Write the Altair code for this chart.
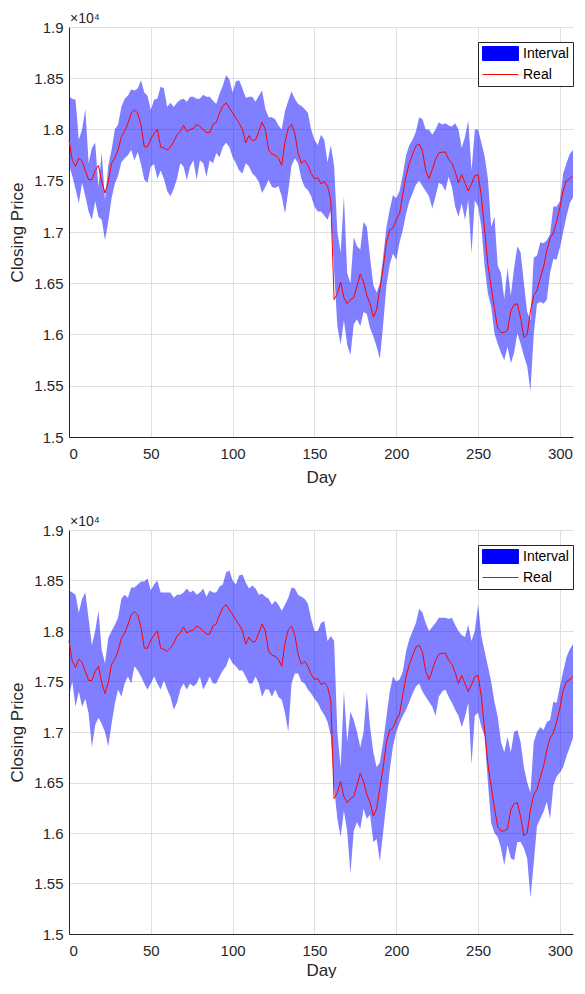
import altair as alt
import pandas as pd

# Day index (every 2nd day)
days = list(range(0, 309, 2))

# Real closing price (x 1e4)
real = [
    1.790, 1.770, 1.764, 1.772, 1.769, 1.760, 1.751, 1.751, 1.760, 1.765,
    1.749, 1.738, 1.749, 1.767, 1.772, 1.780, 1.793, 1.798, 1.806, 1.816,
    1.819, 1.816, 1.804, 1.783, 1.783, 1.791, 1.796, 1.800, 1.783, 1.782,
    1.780, 1.783, 1.788, 1.795, 1.798, 1.804, 1.798, 1.800, 1.801, 1.805,
    1.803, 1.800, 1.797, 1.797, 1.805, 1.807, 1.816, 1.823, 1.826, 1.821,
    1.816, 1.811, 1.806, 1.800, 1.787, 1.794, 1.789, 1.790, 1.798, 1.807,
    1.800, 1.780, 1.776, 1.775, 1.772, 1.765, 1.788, 1.801, 1.805, 1.796,
    1.777, 1.767, 1.770, 1.765, 1.757, 1.752, 1.753, 1.747, 1.749, 1.745,
    1.731, 1.634, 1.640, 1.651, 1.636, 1.630, 1.634, 1.636, 1.647, 1.659,
    1.651, 1.638, 1.630, 1.617, 1.624, 1.645, 1.665, 1.690, 1.702, 1.704,
    1.712, 1.718, 1.737, 1.755, 1.767, 1.776, 1.784, 1.786, 1.779, 1.760,
    1.752, 1.761, 1.771, 1.777, 1.778, 1.778, 1.771, 1.767, 1.759, 1.748,
    1.756, 1.748, 1.740, 1.747, 1.755, 1.756, 1.735, 1.702, 1.668, 1.646,
    1.625, 1.606, 1.602, 1.602, 1.604, 1.623, 1.629, 1.630, 1.616, 1.597,
    1.600, 1.623, 1.638, 1.643, 1.655, 1.666, 1.682, 1.694, 1.699, 1.710,
    1.724, 1.741, 1.750, 1.752, 1.755,
]

# Interval, top panel
upper_a = [
    1.832, 1.830, 1.829, 1.790, 1.800, 1.820, 1.767, 1.782, 1.787, 1.744,
    1.778, 1.731, 1.765, 1.780, 1.800, 1.805, 1.822, 1.830, 1.833, 1.839,
    1.838, 1.840, 1.848, 1.836, 1.833, 1.819, 1.829, 1.830, 1.842, 1.840,
    1.822, 1.826, 1.822, 1.826, 1.829, 1.830, 1.827, 1.832, 1.832, 1.830,
    1.830, 1.834, 1.832, 1.832, 1.828, 1.825, 1.835, 1.843, 1.853, 1.849,
    1.836, 1.847, 1.848, 1.840, 1.831, 1.832, 1.832, 1.827, 1.833, 1.838,
    1.820, 1.812, 1.812, 1.810, 1.804, 1.800, 1.818, 1.828, 1.837, 1.830,
    1.825, 1.823, 1.820, 1.816, 1.800, 1.790, 1.785, 1.795, 1.790, 1.768,
    1.785, 1.765, 1.700, 1.680, 1.735, 1.660, 1.650, 1.695, 1.686, 1.683,
    1.710, 1.705, 1.675, 1.648, 1.641, 1.650, 1.676, 1.705, 1.722, 1.736,
    1.733, 1.740, 1.756, 1.775, 1.785, 1.790, 1.798, 1.812, 1.810, 1.800,
    1.800, 1.795, 1.800, 1.807, 1.805, 1.806, 1.804, 1.803, 1.806, 1.800,
    1.782, 1.793, 1.809, 1.760, 1.800, 1.800, 1.787, 1.774, 1.752, 1.705,
    1.715, 1.667, 1.660, 1.635, 1.665, 1.638, 1.665, 1.686, 1.680, 1.650,
    1.622, 1.614, 1.675, 1.677, 1.690, 1.689, 1.692, 1.698, 1.725, 1.725,
    1.730, 1.757, 1.767, 1.776, 1.780,
]
lower_a = [
    1.765, 1.755, 1.742, 1.728, 1.748, 1.735, 1.720, 1.712, 1.730, 1.715,
    1.712, 1.692, 1.710, 1.733, 1.747, 1.755, 1.768, 1.772, 1.775, 1.780,
    1.770, 1.778, 1.766, 1.751, 1.748, 1.764, 1.766, 1.752, 1.760, 1.752,
    1.740, 1.735, 1.742, 1.752, 1.767, 1.764, 1.751, 1.764, 1.770, 1.751,
    1.770, 1.767, 1.754, 1.770, 1.767, 1.777, 1.773, 1.783, 1.787, 1.783,
    1.773, 1.767, 1.760, 1.757, 1.767, 1.764, 1.757, 1.754, 1.749, 1.738,
    1.744, 1.751, 1.744, 1.743, 1.745, 1.735, 1.718, 1.740, 1.765, 1.772,
    1.767, 1.752, 1.744, 1.741, 1.735, 1.725, 1.720, 1.720, 1.716, 1.712,
    1.721, 1.663, 1.608, 1.590, 1.614, 1.590, 1.580, 1.610, 1.615, 1.608,
    1.622, 1.620, 1.606, 1.598, 1.588, 1.576, 1.610, 1.648, 1.668, 1.679,
    1.673, 1.690, 1.702, 1.718, 1.730, 1.738, 1.746, 1.750, 1.745, 1.740,
    1.735, 1.723, 1.735, 1.748, 1.746, 1.740, 1.754, 1.744, 1.725, 1.715,
    1.728, 1.712, 1.731, 1.679, 1.731, 1.725, 1.705, 1.666, 1.640, 1.627,
    1.601, 1.591, 1.582, 1.575, 1.588, 1.572, 1.582, 1.601, 1.591, 1.579,
    1.569, 1.545, 1.600, 1.630, 1.632, 1.630, 1.634, 1.660, 1.674, 1.673,
    1.685, 1.700, 1.715, 1.728, 1.734,
]

# Interval, bottom panel
upper_b = [
    1.840, 1.838, 1.836, 1.818, 1.832, 1.838, 1.812, 1.786, 1.800, 1.820,
    1.781, 1.768, 1.793, 1.800, 1.806, 1.813, 1.832, 1.836, 1.833, 1.843,
    1.843, 1.846, 1.849, 1.849, 1.852, 1.840, 1.846, 1.850, 1.838, 1.838,
    1.838, 1.838, 1.833, 1.836, 1.836, 1.838, 1.842, 1.838, 1.840, 1.836,
    1.838, 1.842, 1.834, 1.840, 1.838, 1.838, 1.844, 1.846, 1.858, 1.860,
    1.850, 1.846, 1.855, 1.856, 1.848, 1.842, 1.845, 1.842, 1.836, 1.837,
    1.834, 1.832, 1.826, 1.830, 1.826, 1.820, 1.826, 1.833, 1.843, 1.842,
    1.836, 1.834, 1.832, 1.827, 1.812, 1.800, 1.800, 1.808, 1.810, 1.790,
    1.795, 1.790, 1.700, 1.665, 1.740, 1.690, 1.720, 1.712, 1.700, 1.685,
    1.700, 1.740, 1.705, 1.680, 1.665, 1.670, 1.690, 1.715, 1.740, 1.755,
    1.750, 1.752, 1.760, 1.780, 1.792, 1.800, 1.808, 1.822, 1.818, 1.808,
    1.800, 1.804, 1.808, 1.813, 1.813, 1.813, 1.812, 1.813, 1.806, 1.800,
    1.796, 1.794, 1.806, 1.790, 1.800, 1.826, 1.795, 1.780, 1.765, 1.750,
    1.730, 1.715, 1.690, 1.680, 1.695, 1.680, 1.700, 1.702, 1.690, 1.665,
    1.650, 1.640, 1.690, 1.700, 1.705, 1.702, 1.710, 1.712, 1.730, 1.729,
    1.745, 1.760, 1.774, 1.782, 1.787,
]
lower_b = [
    1.735, 1.750, 1.725, 1.740, 1.725, 1.733, 1.718, 1.685, 1.707, 1.714,
    1.708, 1.700, 1.686, 1.708, 1.728, 1.742, 1.735, 1.748, 1.755, 1.748,
    1.765, 1.761, 1.755, 1.748, 1.742, 1.748, 1.755, 1.748, 1.742, 1.751,
    1.742, 1.735, 1.722, 1.729, 1.742, 1.748, 1.742, 1.748, 1.745, 1.748,
    1.755, 1.742, 1.748, 1.755, 1.748, 1.748, 1.755, 1.761, 1.765, 1.774,
    1.768, 1.765, 1.761, 1.761, 1.755, 1.748, 1.748, 1.755, 1.748, 1.735,
    1.742, 1.742, 1.735, 1.742, 1.735, 1.732, 1.719, 1.700, 1.748, 1.758,
    1.758, 1.750, 1.748, 1.742, 1.738, 1.733, 1.729, 1.722, 1.717, 1.710,
    1.696, 1.645, 1.614, 1.596, 1.622, 1.602, 1.560, 1.602, 1.611, 1.604,
    1.624, 1.614, 1.618, 1.591, 1.594, 1.572, 1.601, 1.630, 1.662, 1.686,
    1.700, 1.709, 1.716, 1.722, 1.730, 1.738, 1.745, 1.748, 1.740, 1.735,
    1.730, 1.725, 1.716, 1.735, 1.740, 1.742, 1.735, 1.729, 1.722, 1.716,
    1.705, 1.715, 1.729, 1.668, 1.716, 1.719, 1.705, 1.696, 1.650, 1.610,
    1.600, 1.596, 1.585, 1.568, 1.588, 1.575, 1.573, 1.591, 1.591, 1.585,
    1.575, 1.536, 1.570, 1.607, 1.614, 1.621, 1.631, 1.614, 1.647, 1.656,
    1.660, 1.665, 1.676, 1.685, 1.694,
]

x_ticks = [0, 50, 100, 150, 200, 250, 300]
y_ticks = [1.5, 1.55, 1.6, 1.65, 1.7, 1.75, 1.8, 1.85, 1.9]
series_names = ["Interval", "Real"]
series_colors = ["#0000ff", "#ff0000"]
legend_fills = ["#0000ff", "transparent"]
legend_shapes = ["M-2.57,-1H2.57V1H-2.57Z", "M-2.57,0H2.57"]
multiplier = ["×10⁴"]

FONT = "Liberation Sans"
TXT = "#262626"
GRID = "#dfdfdf"


def panel(up, lo, h, xtitle_pad):
    df = pd.DataFrame({"Day": days, "Real": real, "Upper": up, "Lower": lo})
    key_df = pd.DataFrame({"s": series_names})
    mult_df = pd.DataFrame({"t": multiplier})
    x_enc = alt.X(
        "Day:Q",
        scale=alt.Scale(domain=[0, 308], nice=False, zero=False),
        axis=alt.Axis(values=x_ticks, title="Day", format="d", titlePadding=xtitle_pad),
    )
    y_scale = alt.Scale(domain=[1.5, 1.9], nice=False, zero=False)
    band = alt.Chart(df).mark_area(opacity=0.5, color=series_colors[0]).encode(
        x=x_enc,
        y=alt.Y("Lower:Q", scale=y_scale,
                axis=alt.Axis(values=y_ticks, title="Closing Price", format=".3~f")),
        y2="Upper:Q",
    )
    line = alt.Chart(df).mark_line(strokeWidth=1, color=series_colors[1]).encode(
        x=x_enc,
        y=alt.Y("Real:Q", scale=y_scale),
    )
    legend = alt.Legend(
        orient="none", legendX=409, legendY=15, title=None,
        fillColor="white", strokeColor=TXT, padding=4, cornerRadius=0,
        labelFontSize=14, labelColor="#000000", labelFont=FONT,
        symbolSize=196, symbolOffset=11, labelOffset=15, rowPadding=4,
        symbolStrokeWidth=1, symbolOpacity=1,
    )
    key = alt.Chart(key_df).mark_point(size=196, strokeWidth=1, opacity=1, clip=True).encode(
        x=alt.datum(-500),
        y=alt.datum(1.0),
        fill=alt.Fill("s:N", scale=alt.Scale(domain=series_names, range=legend_fills), legend=legend),
        stroke=alt.Stroke("s:N", scale=alt.Scale(domain=series_names, range=series_colors), legend=legend),
        shape=alt.Shape("s:N", scale=alt.Scale(domain=series_names, range=legend_shapes), legend=legend),
    )
    mult = alt.Chart(mult_df).mark_text(
        align="left", baseline="alphabetic", dy=-4, dx=1, fontSize=14, font=FONT, color=TXT
    ).encode(x=alt.datum(0), y=alt.datum(1.9), text="t:N")
    return alt.layer(band, line, key, mult).properties(width=504, height=h)


chart = alt.vconcat(
    panel(upper_a, lower_a, 410, 8), panel(upper_b, lower_b, 404, 4),
    spacing=93, bounds="flush",
).resolve_legend(
    fill="independent", stroke="independent", shape="independent"
).properties(
    padding={"left": 0, "top": 4, "right": 0, "bottom": 0},
    background="white",
).configure_view(stroke=None).configure_axis(
    labelFont=FONT, titleFont=FONT, labelColor=TXT, titleColor=TXT,
    labelFontSize=15, titleFontSize=17, titleFontWeight="normal",
    ticks=False, tickSize=0, domainColor=TXT, domainWidth=1,
    gridColor=GRID, gridWidth=1,
).configure_axisX(labelPadding=9).configure_axisY(
    labelPadding=6, titlePadding=7
)

chart.save("out.html", embed_options={"renderer": "svg", "actions": False})
